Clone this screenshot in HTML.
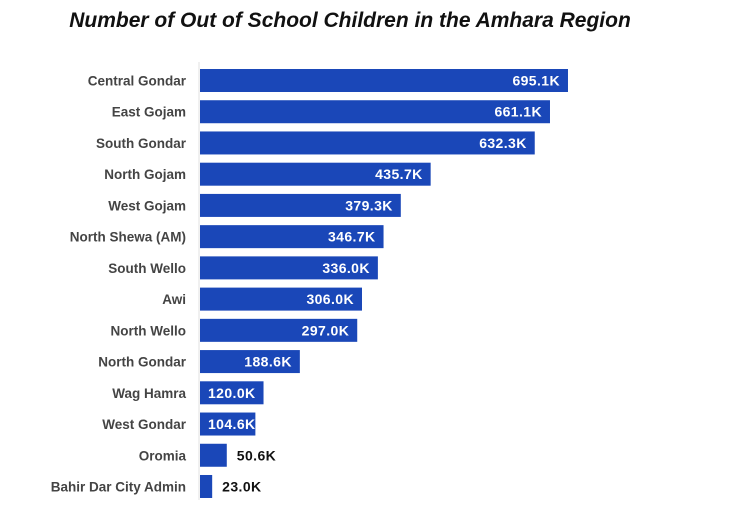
<!DOCTYPE html>
<html><head><style>
body{margin:0;background:#fff;}
svg text{font-family:"Liberation Sans",Arial,sans-serif;}
</style></head><body>
<svg width="751" height="506" xmlns="http://www.w3.org/2000/svg">
<text x="350" y="27" text-anchor="middle" font-size="21" font-weight="bold" font-style="italic" fill="#111">Number of Out of School Children in the Amhara Region</text>
<line x1="199" y1="62" x2="199" y2="500" stroke="#e0e0e0" stroke-width="1"/>
<g id="bars"></g>
</svg>
<script>
const d=[["Central Gondar",695.1],["East Gojam",661.1],["South Gondar",632.3],["North Gojam",435.7],["West Gojam",379.3],["North Shewa (AM)",346.7],["South Wello",336.0],["Awi",306.0],["North Wello",297.0],["North Gondar",188.6],["Wag Hamra",120.0],["West Gondar",104.6],["Oromia",50.6],["Bahir Dar City Admin",23.0]];
const g=document.getElementById('bars');let h='';
d.forEach((r,i)=>{const y=69+i*31.23;const w=r[1]*0.5294;const cy=y+16.5;
h+=`<rect x="200" y="${y}" width="${w}" height="23" fill="#1a47b8"/>`;
h+=`<text x="186" y="${cy}" text-anchor="end" font-size="13.5" font-weight="bold" fill="#444">${r[0]}</text>`;
const lbl=r[1].toFixed(1)+'K';
if(w>75)h+=`<text x="${200+w-8}" y="${cy}" text-anchor="end" font-size="14" font-weight="bold" letter-spacing="0.4" fill="#fff">${lbl}</text>`;
else if(w>40)h+=`<text x="208" y="${cy}" font-size="14" font-weight="bold" letter-spacing="0.4" fill="#fff">${lbl}</text>`;
else h+=`<text x="${200+w+10}" y="${cy}" font-size="14" font-weight="bold" letter-spacing="0.4" fill="#111">${lbl}</text>`;});
g.innerHTML=h;
</script>
</body></html>
